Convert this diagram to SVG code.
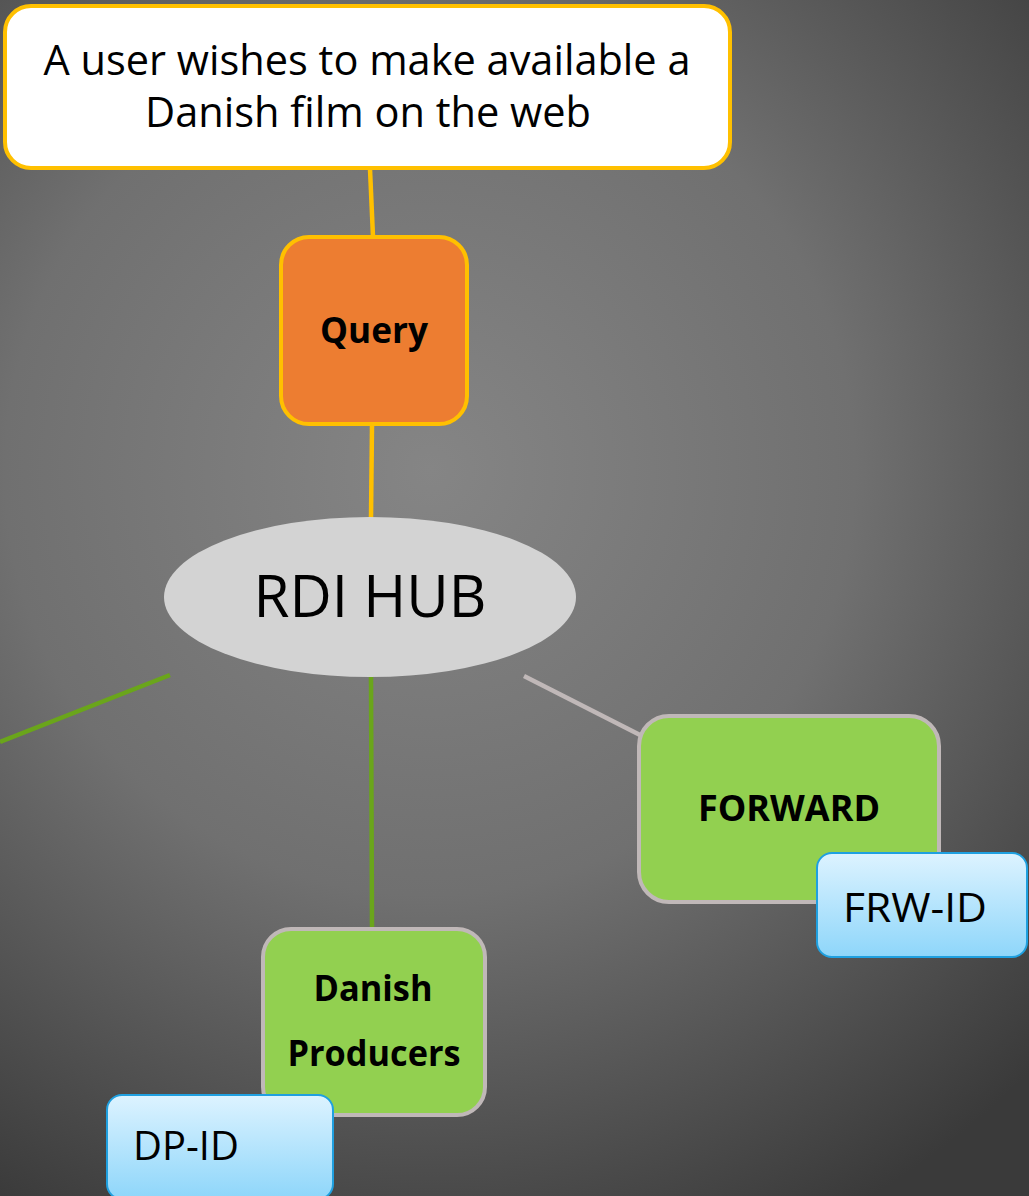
<svg xmlns="http://www.w3.org/2000/svg" width="1029" height="1196" viewBox="0 0 1029 1196">
<defs>
<radialGradient id="bg" gradientUnits="userSpaceOnUse" cx="430" cy="470" r="850">
<stop offset="0" stop-color="#858585"/>
<stop offset="0.5" stop-color="#707070"/>
<stop offset="1" stop-color="#3a3a3a"/>
</radialGradient>
<linearGradient id="blue" x1="0" y1="0" x2="0" y2="1">
<stop offset="0" stop-color="#DDF3FF"/>
<stop offset="1" stop-color="#8ED6FA"/>
</linearGradient>
<style>
text{font-family:"Open Sans","Noto Sans",sans-serif;fill:#000;text-anchor:middle}
.b{font-weight:bold}
.green{fill:#92D050;stroke:#C0B8B8;stroke-width:4}
.id{fill:url(#blue);stroke:#1FA0E0;stroke-width:2}
.c{fill:none;stroke-width:4.5}
</style>
</defs>
<rect width="1029" height="1196" fill="url(#bg)"/>
<g id="connectors">
<line class="c" x1="370" y1="169" x2="373" y2="237" stroke="#FFC000"/>
<line class="c" x1="372" y1="425" x2="371" y2="518" stroke="#FFC000"/>
<line class="c" x1="170" y1="675" x2="0" y2="742" stroke="#6AA51B"/>
<line class="c" x1="371" y1="677" x2="372" y2="928" stroke="#6AA51B"/>
<line class="c" x1="524" y1="676" x2="642" y2="736" stroke="#C0B8B8"/>
</g>
<g id="user">
<rect x="5" y="6" width="725" height="162" rx="26" fill="#fff" stroke="#FFC000" stroke-width="4"/>
<text x="367" y="75" font-size="42" textLength="647" lengthAdjust="spacingAndGlyphs">A user wishes to make available a</text>
<text x="368" y="127" font-size="42" textLength="446" lengthAdjust="spacingAndGlyphs">Danish film on the web</text>
</g>
<g id="query">
<rect x="281" y="237" width="186" height="187" rx="28" fill="#ED7D31" stroke="#FFC000" stroke-width="4"/>
<text class="b" x="374" y="343" font-size="35" textLength="108" lengthAdjust="spacingAndGlyphs">Query</text>
</g>
<g id="hub">
<ellipse cx="370" cy="597" rx="206" ry="80" fill="#D3D3D3"/>
<text x="370" y="617" font-size="59" textLength="233" lengthAdjust="spacingAndGlyphs">RDI HUB</text>
</g>
<g id="forward">
<rect class="green" x="639" y="716" width="300" height="186" rx="30"/>
<text class="b" x="789" y="821" font-size="35" textLength="182" lengthAdjust="spacingAndGlyphs">FORWARD</text>
</g>
<g id="frw-id">
<rect class="id" x="817" y="853" width="210" height="104" rx="15"/>
<text x="915" y="922" font-size="40" textLength="144" lengthAdjust="spacingAndGlyphs">FRW-ID</text>
</g>
<g id="producers">
<rect class="green" x="263" y="929" width="222" height="186" rx="28"/>
<text class="b" x="373" y="1001" font-size="35" textLength="119" lengthAdjust="spacingAndGlyphs">Danish</text>
<text class="b" x="374" y="1066" font-size="35" textLength="173" lengthAdjust="spacingAndGlyphs">Producers</text>
</g>
<g id="dp-id">
<rect class="id" x="107" y="1095" width="226" height="104" rx="15"/>
<text x="186" y="1160" font-size="40" textLength="106" lengthAdjust="spacingAndGlyphs">DP-ID</text>
</g>
</svg>
